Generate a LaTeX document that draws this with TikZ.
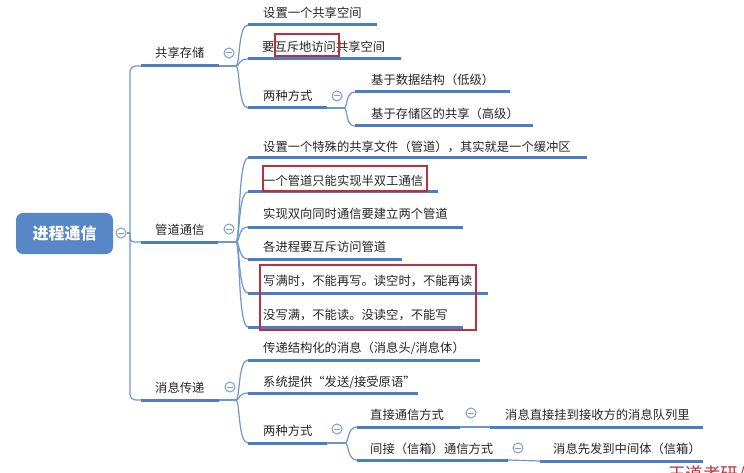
\documentclass[tikz,border=0pt]{standalone}
\usepackage{fontspec}
\newfontfamily\cjk{Noto Sans CJK SC}
\definecolor{ublue}{HTML}{4D7DC2}
\definecolor{cblue}{HTML}{6E97D0}
\definecolor{fblue}{HTML}{7A9ED3}
\definecolor{rootc}{HTML}{5887C8}
\definecolor{txtc}{HTML}{262626}
\definecolor{redc}{HTML}{B8313C}
\newcommand\mmtopic[7]{%
  \coordinate (#1-s) at (#2,#4);
  \coordinate (#1-e) at (#3,#4);
  \draw[uline] (#1-s) -- (#1-e);
  \node[txt] (#1) at (#5,#6) {#7};}
\begin{document}
\begin{tikzpicture}[x=1pt,y=-1pt,
  uline/.style={draw=ublue,line width=3pt},
  conn/.style={draw=cblue,line width=1.2pt},
  curv/.style={out=0,in=180,out distance=4pt,in distance=10pt},
  txt/.style={font=\cjk\fontsize{12.3}{14}\selectfont,text=txtc,inner sep=0pt,anchor=west},
  rootbox/.style={rounded corners=7pt,fill=rootc,minimum width=97pt,minimum height=41pt,
    text=white,font=\cjk\bfseries\fontsize{16}{18}\selectfont,inner sep=0pt},
  fold/.style={circle,draw=fblue,fill=white,line width=1pt,minimum size=10pt,inner sep=0pt,
    path picture={\draw[fblue,line width=1pt]
      ([xshift=-2.6pt]path picture bounding box.center) -- ([xshift=2.6pt]path picture bounding box.center);}},
  redbox/.style={draw=redc,line width=1.2pt,inner sep=0pt}]
\useasboundingbox (0,0) rectangle (744,473);
\fill[white] (0,0) rectangle (744,473);

% root
\node[rootbox] (root) at (64.5,233.5) {进程通信};
\node[fold] (f0) at (121,233) {};
\coordinate (trunk) at (130,233);

% level 1
\mmtopic{sa}{141}{219}{66}{155}{53}{共享存储}
\mmtopic{pa}{141}{218}{242}{155}{230}{管道通信}
\mmtopic{ma}{141}{219}{400}{155}{388}{消息传递}

\draw[conn] (f0) -- (trunk);
\draw[conn,rounded corners=6pt] (sa-s) -| (trunk) |- (ma-s);
\draw[conn,rounded corners=4pt] (trunk) |- (pa-s);

% shared storage
\mmtopic{s1}{248}{377}{25}{263}{13}{设置一个共享空间}
\mmtopic{s2}{248}{401}{59}{262}{47}{要互斥地访问共享空间}
\mmtopic{s3}{248}{327}{108}{263}{96}{两种方式}
\mmtopic{s31}{355}{510}{92}{371}{80}{基于数据结构（低级）}
\mmtopic{s32}{355}{533}{126}{371}{114}{基于存储区的共享（高级）}

% pipe
\mmtopic{p1}{248}{587}{158}{263}{147}{设置一个特殊的共享文件（管道），其实就是一个缓冲区}
\mmtopic{p2}{248}{438}{192}{263}{181}{一个管道只能实现半双工通信}
\mmtopic{p3}{248}{463}{227}{263}{214}{实现双向同时通信要建立两个管道}
\mmtopic{p4}{248}{402}{259}{263}{247}{各进程要互斥访问管道}
\mmtopic{p5}{248}{488}{293}{263}{281}{写满时，不能再写。读空时，不能再读}
\mmtopic{p6}{248}{463}{327}{263}{315}{没写满，不能读。没读空，不能写}

% message
\mmtopic{m1}{248}{480}{360}{263}{348}{传递结构化的消息（消息头/消息体）}
\mmtopic{m2}{248}{418}{393}{263}{382}{系统提供“发送/接受原语”}
\mmtopic{m3}{248}{327}{443}{263}{431}{两种方式}
\mmtopic{m31}{357}{460}{427}{370}{415}{直接通信方式}
\mmtopic{m32}{357}{508}{460}{370}{449}{间接（信箱）通信方式}
\mmtopic{m311}{490}{703}{427}{505}{415}{消息直接挂到接收方的消息队列里}
\mmtopic{m321}{540}{703}{461}{553}{449}{消息先发到中间体（信箱）}

% branch points
\coordinate (bA) at (236,66);
\coordinate (bA2) at (344,108);
\coordinate (bB) at (236,242);
\coordinate (bC) at (236,400);
\coordinate (bC2) at (345,443);

\draw[conn] (sa-e) -- (bA);
\foreach \c in {s1,s2,s3} \draw[conn] (bA) to[curv] (\c-s);
\draw[conn] (s3-e) -- (bA2);
\foreach \c in {s31,s32} \draw[conn] (bA2) to[curv] (\c-s);
\draw[conn] (pa-e) -- (bB);
\foreach \c in {p1,p2,p3,p4,p5,p6} \draw[conn] (bB) to[curv] (\c-s);
\draw[conn] (ma-e) -- (bC);
\foreach \c in {m1,m2,m3} \draw[conn] (bC) to[curv] (\c-s);
\draw[conn] (m3-e) -- (bC2);
\foreach \c in {m31,m32} \draw[conn] (bC2) to[curv] (\c-s);
\draw[conn] (m31-e) -- (m311-s);
\draw[conn] (m32-e) -- (m321-s);

% fold markers
\node[fold] (fa) at (229,53) {};
\node[fold] (fb) at (229,229) {};
\node[fold] (fc) at (230,387) {};
\node[fold] (fs3) at (337,96) {};
\node[fold] (fm3) at (337,429) {};
\node[fold] (fm31) at (471,413) {};
\node[fold] (fm32) at (518,448) {};

% red highlight boxes
\node[redbox,minimum width=64pt,minimum height=22pt] (rb1) at (307,45) {};
\node[redbox,minimum width=164pt,minimum height=25pt] (rb2) at (345,178.5) {};
\node[redbox,minimum width=216pt,minimum height=65pt] (rb3) at (368,297.5) {};

% watermark (cut off)
\node[anchor=north west,inner sep=0pt,text=redc,font=\cjk\fontsize{17.5}{20}\selectfont] (wm) at (668,466) {王道考研/};
\end{tikzpicture}
\end{document}
